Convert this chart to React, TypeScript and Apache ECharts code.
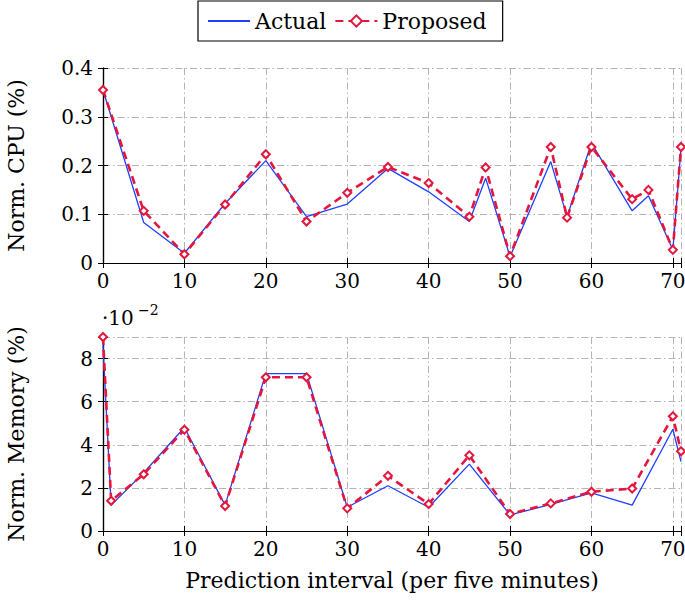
import React, { useEffect, useRef } from "react";
import * as echarts from "echarts";

const cpuX = [0, 5, 10, 15, 20, 25, 30, 35, 40, 45, 47, 50, 55, 57, 60, 65, 67, 70, 71];
const cpuActual = [0.355, 0.083, 0.02, 0.122, 0.21, 0.095, 0.121, 0.194, 0.146, 0.085, 0.174, 0.013, 0.208, 0.095, 0.246, 0.107, 0.138, 0.027, 0.235];
const cpuProposed = [0.355, 0.107, 0.018, 0.12, 0.223, 0.085, 0.144, 0.197, 0.164, 0.095, 0.196, 0.014, 0.238, 0.093, 0.238, 0.131, 0.15, 0.027, 0.238];

const memX = [0, 1, 5, 10, 15, 20, 25, 30, 35, 40, 45, 50, 55, 60, 65, 70, 71];
const memActual = [0.086, 0.012, 0.027, 0.048, 0.012, 0.073, 0.073, 0.011, 0.021, 0.011, 0.031, 0.0075, 0.0123, 0.0177, 0.012, 0.0472, 0.0322];
const memProposed = [0.09, 0.014, 0.0263, 0.047, 0.0116, 0.0713, 0.0713, 0.0105, 0.0256, 0.0125, 0.0351, 0.0079, 0.0128, 0.0182, 0.0197, 0.0532, 0.037];

const seriesNames = ["Actual", "Proposed"];
const xTitle = "Prediction interval (per five minutes)";
const cpuTitle = "Norm. CPU (%)";
const memTitle = "Norm. Memory (%)";

const FONT = "DejaVu Serif";
const FS = 22;
const TFS = 20;
const BLUE = "#1f40ff";
const RED = "#e3173e";
const GRIDC = "#b4b4b4";

export default function App() {
  const ref = useRef<HTMLDivElement>(null);
  useEffect(() => {
    if (!ref.current) return;
    const chart = echarts.init(ref.current, null, { renderer: "svg" });
    const pairs = (xs: number[], ys: number[]) => xs.map((x, i) => [x, ys[i]]);
    const splitLine = { show: true, lineStyle: { color: GRIDC, width: 1, type: [7, 3, 1.5, 3] } };
    const axisLine = { show: true, lineStyle: { color: "#000", width: 1.2 } };
    const axisTick = { show: true, inside: true, length: 5, lineStyle: { color: "#000", width: 1 } };
    const lblStyle = { fontFamily: FONT, fontSize: FS, color: "#000" };
    const tickStyle = { fontFamily: FONT, fontSize: TFS, color: "#000" };
    const xFmt = (v: number) => (Math.abs(v % 10) < 1e-9 ? String(v) : "");
    const cpuFmt = (v: number) => (v === 0 ? "0" : v.toFixed(1));
    const memFmt = (v: number) => {
      const n = Math.round(v * 100000) / 1000;
      return Number.isInteger(n) && n % 2 === 0 ? String(n) : "";
    };
    const xBase = (grid: number) => ({
      type: "value",
      gridIndex: grid,
      min: 0,
      max: 71,
      interval: 10,
      axisLine,
      axisTick,
    });
    const grids = [
      { left: 103, top: 68, width: 578, height: 195, outerBoundsMode: "none", containLabel: false },
      { left: 103, top: 337, width: 578, height: 194, outerBoundsMode: "none", containLabel: false },
    ];
    const option: any = {
      animation: false,
      backgroundColor: "#fff",
      textStyle: { fontFamily: FONT },
      legend: {
        data: [{ name: seriesNames[0], itemStyle: { opacity: 0 } }, { name: seriesNames[1] }],
        left: 198,
        top: 1,
        padding: [9, 16, 9, 9],
        itemWidth: 42,
        itemHeight: 14,
        itemGap: 8,
        borderColor: "#000",
        borderWidth: 1.2,
        textStyle: { fontFamily: FONT, fontSize: FS, color: "#000" },
      },
      grid: grids,
      xAxis: [
        {
          ...xBase(0),
          position: "bottom",
          axisLabel: { ...tickStyle, margin: 8, formatter: xFmt },
          splitLine,
        },
        { ...xBase(0), position: "top", axisLabel: { show: false }, splitLine: { show: false } },
        {
          ...xBase(1),
          position: "bottom",
          axisLabel: { ...tickStyle, margin: 8, formatter: xFmt },
          splitLine,
          name: xTitle,
          nameLocation: "middle",
          nameGap: 38,
          nameTextStyle: { ...lblStyle },
        },
        { ...xBase(1), position: "top", axisLabel: { show: false }, splitLine: { show: false } },
      ],
      yAxis: [
        {
          type: "value",
          gridIndex: 0,
          position: "left",
          min: 0,
          max: 0.4,
          interval: 0.1,
          axisLine,
          axisTick,
          axisLabel: { ...tickStyle, margin: 10, formatter: cpuFmt },
          splitLine,
          name: cpuTitle,
          nameLocation: "middle",
          nameGap: 76,
          nameTextStyle: { ...lblStyle },
        },
        {
          type: "value",
          gridIndex: 0,
          position: "right",
          min: 0,
          max: 0.4,
          interval: 0.1,
          axisLine,
          axisTick,
          axisLabel: { show: false },
          splitLine: { show: false },
        },
        {
          type: "value",
          gridIndex: 1,
          position: "left",
          min: 0,
          max: 0.09,
          interval: 0.02,
          axisLine,
          axisTick,
          axisLabel: { ...tickStyle, margin: 10, formatter: memFmt },
          splitLine,
          name: memTitle,
          nameLocation: "middle",
          nameGap: 76,
          nameTextStyle: { ...lblStyle },
        },
        {
          type: "value",
          gridIndex: 1,
          position: "right",
          min: 0,
          max: 0.09,
          interval: 0.02,
          axisLine,
          axisTick,
          axisLabel: { show: false },
          splitLine: { show: false },
        },
      ],
      graphic: [
        { type: "text", left: 102, top: 308, style: { text: "·10", fontFamily: FONT, fontSize: TFS, fill: "#000" } },
        { type: "text", left: 138, top: 303, style: { text: "−2", fontFamily: FONT, fontSize: 14, fill: "#000" } },
      ],
      series: [
        {
          name: seriesNames[0],
          type: "line",
          xAxisIndex: 0,
          yAxisIndex: 0,
          data: pairs(cpuX, cpuActual),
          symbol: "none",
          lineStyle: { color: BLUE, width: 1.3 },
          itemStyle: { color: BLUE },
        },
        {
          name: seriesNames[1],
          type: "line",
          xAxisIndex: 0,
          yAxisIndex: 0,
          data: pairs(cpuX, cpuProposed),
          symbol: "emptyDiamond",
          symbolSize: 8,
          lineStyle: { color: RED, width: 2.6, type: [8, 5] },
          itemStyle: { color: RED, borderColor: RED, borderWidth: 2 },
        },
        {
          name: seriesNames[0],
          type: "line",
          xAxisIndex: 2,
          yAxisIndex: 2,
          data: pairs(memX, memActual),
          symbol: "none",
          lineStyle: { color: BLUE, width: 1.3 },
          itemStyle: { color: BLUE },
        },
        {
          name: seriesNames[1],
          type: "line",
          xAxisIndex: 2,
          yAxisIndex: 2,
          data: pairs(memX, memProposed),
          symbol: "emptyDiamond",
          symbolSize: 8,
          lineStyle: { color: RED, width: 2.6, type: [8, 5] },
          itemStyle: { color: RED, borderColor: RED, borderWidth: 2 },
        },
      ],
    };
    chart.setOption(option);
    return () => chart.dispose();
  }, []);
  return (
    <div
      ref={ref}
      style={{ position: "absolute", left: 0, top: 0, width: 685, height: 605 }}
    />
  );
}
